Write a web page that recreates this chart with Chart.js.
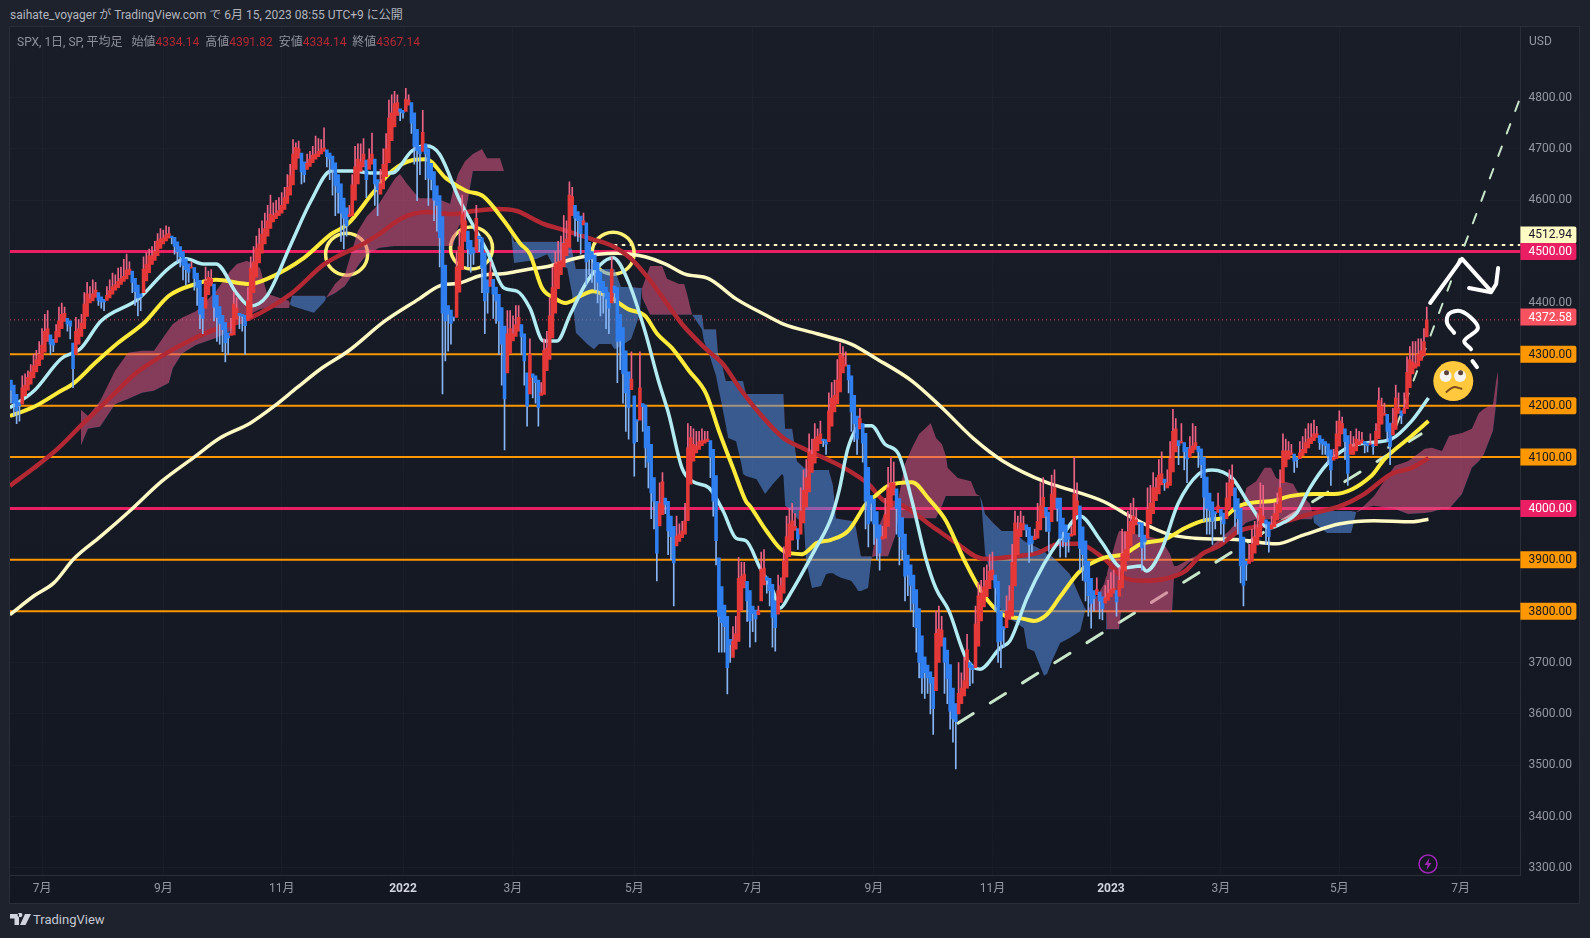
<!DOCTYPE html>
<html>
<head>
<meta charset="utf-8">
<title>SPX</title>
<style>
  html, body { margin: 0; padding: 0; background: #1e222d; width: 1590px; height: 938px; overflow: hidden; }
  body { font-family: Roboto, "Noto Sans CJK JP", sans-serif; color: #b2b5be; font-size: 12px; }
  #frame { position: absolute; left: 9px; top: 26px; width: 1571px; height: 878px; border: 1px solid #2a2e39; box-sizing: border-box; }
  #chart { position: absolute; left: 10px; top: 27px; }
  .txt { position: absolute; white-space: pre; line-height: 16px; }
  .val { color: #b22833; }
</style>
<script src="https://cdn.jsdelivr.net/npm/chart.js@4"></script>
</head>
<body>
<div id="frame"></div>
<canvas id="chart" width="1569" height="876"></canvas>
<div class="txt" style="left:10px;top:7px">saihate_voyager が TradingView.com で 6月 15, 2023 08:55 UTC+9 に公開</div>
<div class="txt" style="left:17px;top:34px;color:#8f929c">SPX, 1日, SP, 平均足   始値<span class="val">4334.14</span>  高値<span class="val">4391.82</span>  安値<span class="val">4334.14</span>  終値<span class="val">4367.14</span></div>
<div class="txt" style="left:1529px;top:33px;color:#9598a1">USD</div>
<svg style="position:absolute;left:1417px;top:853px" width="22" height="22" viewBox="0 0 22 22">
  <circle cx="11" cy="11" r="9" fill="none" stroke="#9c27b0" stroke-width="1.5"/>
  <path d="M12.5 5 L7.5 12 H10.5 L9.5 17 L14.5 10 H11.5 Z" fill="#9c27b0"/>
</svg>
<svg style="position:absolute;left:10px;top:913px" width="21" height="13" viewBox="0 0 21 13">
  <path d="M0 1 H9 V12 H4.5 V5.5 H0 Z M10 4 A2 2 0 1 0 10 0.1 A2 2 0 1 0 10 4 Z M15 1 H21 L15.5 12 H10 Z" fill="#d1d4dc"/>
</svg>
<div class="txt" style="left:33px;top:912px;font-size:13px;color:#c5c8d0">TradingView</div>
<script>
// heikin-ashi candles, 20 bars per row
const candleOpen = [
  4250,4240,4222,4206,4203,4219,4230,4242,4254,4266,4278,4290,4304,4325,4338,4329,4323,4334,4350,4364,
  4370,4365,4322,4300,4320,4335,4350,4374,4400,4404,4411,4420,4412,4407,4405,4410,4417,4425,4430,4436,
  4442,4447,4455,4462,4448,4435,4418,4420,4443,4459,4475,4483,4492,4506,4515,4521,4526,4530,4528,4519,
  4510,4500,4486,4476,4468,4469,4458,4444,4411,4390,4416,4433,4437,4415,4393,4376,4362,4342,4337,4338,
  4368,4380,4378,4376,4366,4371,4420,4450,4478,4497,4515,4530,4545,4558,4564,4570,4575,4582,4594,4610,
  4630,4660,4682,4692,4675,4660,4666,4673,4680,4685,4690,4695,4698,4692,4686,4673,4650,4632,4604,4585,
  4568,4570,4600,4632,4656,4665,4678,4660,4670,4680,4640,4612,4622,4646,4673,4716,4743,4765,4778,4775,
  4773,4785,4790,4770,4738,4705,4695,4710,4700,4672,4656,4628,4609,4568,4474,4395,4386,4373,4372,4421,
  4465,4520,4540,4522,4508,4503,4530,4527,4497,4445,4432,4446,4431,4417,4391,4355,4264,4302,4326,4335,
  4345,4358,4340,4264,4223,4262,4258,4250,4220,4222,4268,4290,4332,4380,4428,4455,4470,4492,4508,4570,
  4590,4578,4569,4552,4556,4518,4500,4493,4479,4460,4442,4431,4420,4400,4433,4430,4378,4352,4307,4266,
  4231,4219,4173,4172,4204,4201,4160,4125,4060,4014,3966,3988,4020,4014,3985,3965,3927,3936,3943,3950,
  3976,4047,4092,4108,4115,4122,4127,4130,4132,4115,4064,3904,3848,3812,3790,3745,3710,3726,3741,3802,
  3845,3858,3840,3810,3802,3793,3820,3851,3867,3864,3852,3820,3794,3817,3835,3866,3906,3938,3957,3961,
  3950,3972,4003,4032,4070,4088,4112,4126,4135,4134,4130,4160,4188,4204,4227,4264,4277,4279,4258,4220,
  4180,4155,4165,4146,4080,4025,4018,3994,3968,3940,3942,3965,4002,4026,4038,4019,3982,3950,3909,3890,
  3870,3842,3805,3752,3711,3695,3682,3671,3645,3700,3732,3748,3724,3696,3650,3620,3600,3620,3635,3650,
  3700,3695,3690,3732,3781,3808,3828,3844,3861,3870,3858,3799,3770,3768,3784,3790,3849,3910,3945,3958,
  3968,3963,3946,3939,3942,3958,3982,4002,3993,3974,4001,4020,4020,3981,3968,3952,3946,3948,3988,4005,
  3964,3937,3897,3864,3840,3832,3837,3828,3816,3821,3828,3835,3840,3829,3845,3878,3899,3927,3951,3968,
  3973,3972,3948,3942,3970,3990,4015,4028,4046,4057,4040,4045,4071,4110,4132,4127,4128,4119,4100,4108,
  4115,4121,4116,4100,4061,4030,4013,3994,3992,3998,3991,3980,4000,4025,4040,4019,4000,3944,3897,3893,
  3897,3913,3929,3945,3972,3978,3974,3960,3964,3977,3992,4050,4081,4096,4104,4106,4099,4097,4102,4108,
  4118,4126,4132,4138,4142,4135,4130,4126,4114,4094,4097,4121,4145,4155,4142,4105,4105,4112,4124,4127,
  4130,4127,4124,4125,4122,4136,4164,4181,4183,4166,4143,4154,4185,4190,4185,4194,4235,4262,4273,4277,
  4288,4297,4334
];
const candleClose = [
  4230,4205,4190,4200,4235,4240,4255,4266,4278,4290,4300,4318,4345,4350,4320,4318,4345,4365,4378,4380,
  4359,4355,4272,4345,4350,4361,4398,4418,4408,4418,4425,4405,4402,4402,4415,4424,4432,4436,4442,4448,
  4452,4464,4466,4440,4422,4410,4412,4466,4475,4492,4492,4500,4521,4525,4527,4532,4535,4527,4510,4500,
  4490,4473,4465,4460,4470,4448,4430,4378,4370,4443,4450,4447,4392,4372,4360,4348,4322,4332,4340,4398,
  4390,4376,4374,4356,4404,4468,4480,4507,4515,4534,4545,4560,4573,4570,4575,4580,4590,4605,4625,4648,
  4690,4703,4700,4655,4650,4672,4680,4688,4690,4695,4700,4702,4685,4680,4660,4628,4615,4575,4565,4550,
  4572,4630,4665,4680,4675,4690,4640,4680,4690,4632,4620,4632,4670,4700,4760,4770,4788,4790,4772,4770,
  4797,4795,4750,4705,4696,4690,4732,4690,4643,4640,4600,4590,4527,4380,4365,4378,4360,4372,4470,4510,
  4573,4560,4505,4495,4497,4565,4525,4468,4404,4420,4460,4417,4404,4365,4320,4213,4340,4350,4340,4358,
  4372,4335,4287,4199,4300,4255,4245,4196,4225,4308,4312,4375,4430,4476,4480,4482,4516,4525,4610,4607,
  4565,4560,4535,4560,4480,4485,4486,4465,4440,4424,4420,4408,4390,4466,4420,4325,4326,4262,4225,4196,
  4252,4127,4170,4235,4198,4118,4090,4030,4014,3913,4009,4052,4008,3956,3945,3894,3946,3950,3956,3976,
  4118,4138,4125,4122,4130,4132,4133,4135,4100,4014,3937,3790,3777,3770,3690,3735,3742,3756,3864,3868,
  3872,3820,3781,3795,3785,3800,3882,3884,3860,3840,3788,3768,3840,3850,3898,3945,3970,3976,3965,3940,
  3995,4035,4060,4110,4105,4135,4140,4145,4132,4125,4190,4215,4220,4250,4300,4295,4280,4250,4188,4165,
  4135,4175,4127,4014,3970,4010,3970,3942,3913,3945,3988,4040,4050,4050,4000,3945,3920,3868,3870,3850,
  3815,3768,3700,3670,3680,3670,3660,3610,3757,3765,3763,3700,3668,3605,3590,3585,3640,3650,3665,3725,
  3690,3686,3775,3830,3835,3848,3860,3878,3880,3845,3740,3742,3765,3800,3820,3895,3972,3960,3972,3970,
  3958,3930,3932,3945,3975,4005,4022,3985,3955,4028,4040,4000,3942,3955,3935,3940,3950,4028,4015,3922,
  3910,3858,3830,3815,3825,3842,3820,3805,3826,3835,3842,3845,3818,3860,3912,3920,3955,3975,3985,3978,
  3970,3923,3935,3998,4010,4040,4040,4065,4068,4050,4050,4097,4150,4155,4122,4130,4110,4096,4116,4122,
  4128,4110,4085,4022,4000,3996,3975,3990,4005,3985,3970,4020,4050,4055,3998,3980,3888,3850,3890,3900,
  3930,3945,3962,4000,3985,3970,3945,3968,3990,4008,4040,4112,4112,4112,4108,4092,4095,4108,4115,4128,
  4135,4138,4145,4145,4128,4125,4122,4102,4075,4100,4145,4170,4165,4130,4068,4125,4120,4135,4130,4133,
  4125,4122,4126,4120,4150,4210,4199,4185,4150,4120,4165,4215,4195,4180,4195,4265,4290,4285,4282,4300,
  4307,4325,4367
];
// tip of each candle's wick: above for red bars, below for blue ones
const candleWick = [
  4205,4180,4165,4170,4258,4262,4268,4280,4300,4308,4325,4350,4378,4385,4300,4305,4358,4392,4400,4392,
  4345,4330,4235,4372,4368,4378,4420,4440,4432,4445,4440,4395,4390,4385,4432,4445,4458,4455,4468,4470,
  4485,4495,4480,4420,4395,4375,4385,4490,4498,4505,4510,4520,4535,4545,4542,4550,4548,4515,4495,4480,
  4470,4445,4435,4440,4480,4425,4395,4350,4340,4470,4462,4465,4365,4325,4320,4305,4285,4300,4370,4420,
  4410,4350,4345,4300,4430,4490,4510,4530,4545,4560,4575,4590,4610,4595,4600,4605,4615,4625,4650,4670,
  4718,4712,4715,4632,4635,4690,4695,4705,4725,4720,4718,4741,4665,4640,4610,4570,4575,4520,4505,4530,
  4590,4650,4705,4710,4710,4720,4605,4700,4731,4590,4570,4660,4700,4730,4795,4805,4812,4805,4755,4760,
  4818,4805,4730,4670,4599,4650,4775,4640,4590,4620,4560,4540,4470,4223,4287,4306,4320,4365,4500,4540,
  4610,4580,4470,4460,4475,4590,4500,4420,4340,4380,4480,4370,4360,4300,4240,4114,4385,4385,4375,4395,
  4395,4300,4240,4160,4330,4215,4205,4160,4245,4330,4345,4410,4470,4500,4520,4530,4570,4560,4636,4625,
  4530,4520,4495,4575,4435,4455,4440,4425,4400,4375,4380,4350,4340,4490,4400,4245,4270,4205,4150,4135,
  4305,4063,4130,4305,4150,4080,4040,3980,3960,3859,4050,4070,3990,3910,3900,3810,3985,3970,3975,4010,
  4165,4160,4155,4150,4150,4155,4150,4150,4060,3985,3890,3720,3720,3720,3639,3700,3770,3790,3905,3895,
  3895,3780,3730,3760,3740,3810,3915,3920,3835,3810,3730,3722,3870,3865,3925,3985,4000,4010,3990,3920,
  4040,4075,4095,4145,4135,4165,4155,4170,4120,4105,4225,4245,4250,4290,4322,4315,4305,4225,4150,4130,
  4105,4195,4090,3960,3925,3975,3930,3900,3880,3965,4020,4080,4100,4090,3950,3890,3900,3820,3830,3800,
  3770,3720,3670,3640,3630,3640,3600,3560,3800,3810,3790,3640,3620,3570,3545,3493,3700,3680,3710,3755,
  3655,3660,3810,3855,3860,3885,3890,3910,3915,3800,3700,3690,3730,3830,3850,3930,3995,3985,3995,3985,
  3945,3895,3915,3960,4010,4050,4060,3955,3915,4065,4075,3975,3905,3925,3905,3915,3965,4100,4050,3880,
  3860,3820,3790,3767,3800,3865,3785,3783,3850,3860,3875,3880,3790,3885,3960,3955,3995,4010,4020,4000,
  3945,3880,3900,4040,4045,4070,4060,4095,4110,4035,4075,4130,4193,4175,4085,4165,4075,4050,4140,4165,
  4160,4080,4060,3975,3950,3950,3930,3960,4030,3950,3935,4050,4075,4085,3965,3950,3855,3810,3860,3930,
  3960,3975,3990,4050,4045,3930,3915,3985,4010,4030,4075,4145,4135,4130,4125,4070,4080,4130,4140,4155,
  4165,4165,4172,4160,4115,4105,4105,4085,4045,4115,4170,4190,4178,4095,4045,4150,4140,4155,4150,4148,
  4108,4110,4145,4105,4165,4235,4215,4205,4130,4085,4195,4240,4225,4165,4225,4295,4315,4325,4325,4330,
  4330,4350,4392
];

// moving averages
const ma200Idx = [-0.4,8.2,15.2,22.3,31.9,42.9,53.5,64.5,74.1,84.8,93.3,101.4,109.9,119.5,132.6,144.7,151.8,159.2,166.3,175.9,184,191.1,199.6,208.1,215.2,224.8,231.9,239,247.5,257.1,268.1,273.9,285.8,297.9,306.4,319.5,330.1,341.1,351.8,367.4,372,387.6,397.9,410.3,419.8,435.5,448.6,458.2,471.3,483.3,496.6,502.6];
const ma200Val = [3793,3830,3855,3902,3946,3999,4053,4098,4137,4166,4199,4235,4272,4306,4365,4408,4433,4439,4453,4458,4466,4472,4486,4495,4497,4490,4476,4456,4447,4408,4375,4359,4340,4320,4293,4248,4196,4137,4092,4050,4042,4013,3981,3950,3942,3939,3931,3948,3970,3976,3974,3979];
const ma50Idx = [-0.4,8.2,16.5,22.3,29.8,37.9,47.5,56,65.6,72.7,84.8,90.8,103.9,113.5,119.5,128,135.1,142.2,147.2,154.2,161.5,167.4,174.8,180.7,184,188.3,192.5,196.6,202.1,206.2,212.8,218.8,224.8,229.1,234.4,240.4,246.5,251,256,260.6,262,267.9,273.9,280.5,285.8,290.8,296.8,303.9,306.4,311,319.5,325.5,331.5,337.6,344.7,351.3,359.1,362.8,367.4,372,379.1,387.6,394.7,400.7,409.2,416.3,423.4,429.4,435.5,448.6,453.5,461.9,469.1,482.3,487,496.6,502.6];
const ma50Val = [4180,4198,4225,4244,4283,4322,4363,4414,4437,4445,4437,4447,4488,4534,4554,4612,4657,4678,4680,4643,4618,4608,4560,4515,4495,4429,4410,4400,4414,4423,4410,4388,4375,4340,4312,4268,4223,4151,4079,4014,4005,3956,3917,3911,3933,3939,3956,4014,4024,4044,4051,4018,3976,3904,3833,3794,3785,3781,3794,3828,3878,3904,3911,3931,3940,3962,3977,3981,4005,4016,4024,4028,4028,4063,4096,4141,4170];
const ma100Idx = [-0.4,8.2,16.5,24.8,36.9,44,53.5,64.5,72.7,84.8,99.3,111.2,125.5,130.5,138.6,147.2,156.7,163.8,172.3,179.4,184,188.8,196.1,205.7,214,219.9,225.9,231.9,237.9,246.5,252.5,258.5,265.6,273.9,281.2,295.4,303.9,309.9,314.7,327.9,335.1,344.7,356.7,363.8,372,378,387.6,394.7,401.9,409.2,416.3,422.3,428.4,435.5,448.6,460.6,471.5,479.8,489.4,496.6,502.6];
const ma100Val = [4044,4079,4116,4161,4225,4262,4297,4330,4349,4371,4418,4476,4517,4534,4565,4577,4573,4579,4583,4579,4567,4554,4542,4525,4509,4486,4449,4404,4359,4310,4281,4233,4184,4137,4116,4079,4048,4014,4009,3960,3933,3902,3907,3913,3931,3931,3902,3865,3859,3863,3878,3911,3927,3956,3970,3989,4005,4028,4067,4079,4098];
const ma20Idx = [-0.4,8.2,17.7,24.8,31.9,45.2,56,62.1,68.1,72.7,80.1,84.8,90.8,99.3,106.4,113.5,120.8,128,135.1,142.2,147.2,151.9,159.2,168.8,174.8,179.4,184,188.8,193.6,198.4,204.4,213.5,218.8,224.8,229.6,233.2,237.9,241.5,247.5,252.5,257.1,260.6,265.6,270.2,272.7,276.2,284.8,290.8,293.6,296.8,301.4,305.1,309.9,314.7,319.5,324.3,327.9,332.6,338.6,343.5,350.7,354.2,360.3,366.3,372,379.1,386.4,394.1,400.7,402.5,407.8,413.8,421.1,425.9,433,439,446.3,451,455.9,460.6,466.7,473.8,479.8,489.4,496.6,502.6];
const ma20Val = [4196,4229,4291,4312,4365,4408,4468,4486,4476,4476,4418,4394,4414,4515,4599,4657,4657,4653,4653,4696,4706,4690,4599,4501,4429,4423,4390,4326,4326,4379,4443,4488,4443,4345,4248,4184,4079,4053,4040,3995,3942,3937,3884,3839,3806,3833,3917,3981,4034,4118,4161,4161,4125,4106,4014,3904,3845,3800,3709,3687,3728,3742,3826,3892,3940,3985,3937,3884,3888,3878,3917,4009,4067,4075,4059,4009,3962,3972,3991,4040,4087,4118,4127,4135,4170,4215];

// ichimoku cloud spans
const cloudIdx = [24.8,27.3,31.6,36.9,41.5,46.5,50.7,56,57.4,60.6,65.6,72.7,77.7,80.1,83.7,88.3,90.8,98.6,98.9,99.6,107.4,111.3,111.7,114.9,118.4,120.9,123,126.2,130.5,136.2,137.9,140.4,144.7,150.7,155.7,156.7,158.5,161,163.8,167,168.8,173.4,174.8,176.2,177.3,178.4,184,186.5,190.1,191.8,197.2,198.9,200.3,204.3,206.7,208.5,212.8,214,216.3,219.9,223,223.6,223.8,226.6,230.9,232.6,236.9,238.7,239.7,241.5,245,245.7,247.5,250,250.7,251.8,253.5,254.3,257.1,258.9,259.6,260.6,264.4,267.4,270.2,273.4,273.9,274.5,277,278.7,281.2,281.9,284,287.2,289,290,291.5,292.5,294.3,297.9,299.3,300.4,301.4,303.9,305,305.3,306.4,308.5,311,313.5,314.7,317,319.5,322,326.1,328,330.1,331.5,332.1,335.7,340.4,342.2,343.6,344.3,345.4,348.2,351.3,355.5,359.1,360.3,362.8,366.3,367.4,369.1,372,375.5,379.1,380.8,381.6,387.6,388.3,388.6,392.2,392.9,393.6,407.8,411,411.7,412.4,413.5,418,423.4,428.4,431.9,435.5,438,441.5,444.5,446.8,448.6,451,454.6,456,460.6,461.3,461.7,462,466.7,471.3,475.2,477,477.6,479.8,483.3,490.7,495.3,501.3,503.8,507.4,509.9,514.5,518,520.5,522.3,525.5,526.6,527.3];
const cloudA = [4192,4180,4209,4268,4303,4307,4307,4349,4359,4371,4384,4423,4462,4476,4482,4468,4418,4404,4398,4394,4381,4404,4410,4437,4456,4501,4540,4569,4593,4643,4651,4632,4604,4604,4593,4618,4651,4676,4690,4700,4682,4682,4657,4607,4536,4478,4482,4486,4495,4478,4468,4419,4342,4320,4310,4320,4320,4310,4316,4330,4379,4429,4429,4472,4472,4447,4437,4437,4418,4377,4349,4326,4301,4258,4238,4209,4161,4137,4131,4088,4067,4063,4057,4028,4048,4067,4063,4005,3995,3981,3970,3898,3845,3849,3872,3874,3874,3870,3865,3859,3849,3839,3839,3845,3898,3905,3946,3976,4005,4014,4020,4087,4118,4145,4166,4137,4125,4102,4079,4059,4053,4028,4024,3995,3911,3859,3794,3781,3767,3728,3722,3674,3678,3703,3738,3748,3761,3800,3800,3853,3868,3874,3946,3956,3956,3940,3911,3898,3888,3888,3902,3915,3940,3956,3979,4040,4053,4079,4079,4059,4053,4048,4034,4009,3995,3985,3972,3952,3952,3952,3993,3995,4005,4024,4083,4092,4116,4118,4112,4141,4147,4155,4186,4194,4203,4248,4268];
const cloudB = [4122,4155,4159,4203,4213,4225,4229,4244,4273,4301,4318,4332,4345,4365,4375,4388,4390,4390,4398,4414,4414,4414,4410,4419,4433,4453,4472,4495,4507,4511,4511,4511,4511,4511,4511,4511,4546,4569,4657,4657,4657,4657,4657,4608,4540,4519,4519,4519,4519,4519,4519,4505,4466,4466,4466,4466,4466,4466,4431,4431,4429,4429,4410,4377,4377,4377,4377,4377,4377,4377,4377,4349,4349,4349,4301,4287,4248,4248,4248,4248,4248,4223,4223,4223,4223,4223,4223,4155,4155,4092,4079,4077,4075,4075,4075,4075,4044,3981,3979,3976,3972,3937,3907,3907,3907,3905,3907,3907,3907,3946,3981,3981,3981,3981,3981,3981,4005,4024,4024,4024,4024,4024,4024,4014,3989,3972,3956,3956,3937,3933,3927,3917,3911,3907,3892,3872,3826,3806,3800,3798,3798,3765,3765,3765,3798,3798,3798,3798,3865,3872,3896,3911,3931,3946,3960,3972,3979,3979,3979,3979,3979,3979,3979,3979,3979,3985,3995,3995,3995,3995,3993,3993,4001,4005,3999,3989,3991,3993,3999,3999,4028,4079,4092,4106,4151,4203,4248];

// drawn levels and trend lines
const orangeLevels = [3800,3900,4100,4200,4300];
const pinkLevels = [4000,4500];
const dottedLevel = 4512.94;
const lastClose = 4367.14;
const lastPrice = 4372.58;
const trend1Idx = [335.8,500];
const trend1Val = [3582,4145];
const trend2Idx = [488.3,535.1];
const trend2Val = [4118,4799];
const arrowIdx = [503.2,514.5,524.8];
const arrowVal = [4400,4486,4423];
const arrowHeadIdx = [517,524.8,526.6,527.3];
const arrowHeadVal = [4429,4421,4437,4468];
const questionIdx = [511.7,509.2,509.9,514,518.8,520,515.3,517.7];
const questionVal = [4342,4361,4379,4384,4365,4349,4326,4310];
const questionDotIdx = [518.2,519.8];
const questionDotVal = [4287,4275];
const circleIdx = [119,163.3,213.5];
const circleVal = [4495,4507,4497];
const faceIdx = [511.4];
const faceVal = [4248];
const eyeIdx = [508.7,513.8];
const eyeVal = [4258,4258];
const pupilIdx = [509,514];
const pupilVal = [4264,4264];
const mouthIdx = [509,511.5,514.3];
const mouthVal = [4227,4236,4233];

const priceTicks = [3300,3400,3500,3600,3700,3800,3900,4000,4100,4200,4300,4400,4500,4600,4700,4800];
const timeTickIdx = [11,54,96,139,178,221,263,306,348,390,429,471,514];
const timeTickLabels = ['7月','9月','11月','2022','3月','5月','7月','9月','11月','2023','3月','5月','7月'];

const xMin = -0.35, xMax = 535.2, yMin = 3286.3, yMax = 4937.3;

const pts = (xs, ys) => xs.map((x, i) => ({ x, y: ys[i] }));
const levelLine = v => [{ x: xMin, y: v }, { x: xMax, y: v }];
const isUp = i => candleClose[i] >= candleOpen[i];
const isYearTick = c => c.tick ? (timeTickLabels[timeTickIdx.indexOf(c.tick.value)] || '').length === 4 : false;

const bodyData = candleOpen.map((o, i) => ({ x: i, y: [o, candleClose[i]] }));
const wickData = candleWick.map((w, i) => ({ x: i, y: [candleClose[i], w] }));

function maLine(label, xs, ys, color, width, order) {
  return { type: 'line', label, data: pts(xs, ys), borderColor: color, borderWidth: width, pointRadius: 0,
    cubicInterpolationMode: 'monotone', fill: false, order };
}
function drawnLine(xs, ys, color, width, dash, order) {
  return { type: 'line', data: pts(xs, ys), borderColor: color, borderWidth: width, borderDash: dash, pointRadius: 0,
    tension: 0, fill: false, borderCapStyle: 'round', borderJoinStyle: 'round', order };
}
function dots(xs, ys, r, bg, border, bw, order) {
  return { type: 'bubble', data: xs.map((x, i) => ({ x, y: ys[i], r })), backgroundColor: bg, borderColor: border,
    borderWidth: bw, order };
}

const datasets = [
  // candles
  { type: 'bar', data: bodyData, grouped: false, barThickness: 2.9, order: 0, borderWidth: 0,
    backgroundColor: candleOpen.map((o, i) => isUp(i) ? '#e53838' : '#2f7ff0') },
  { type: 'bar', data: wickData, grouped: false, barThickness: 1, order: 1, borderWidth: 0,
    backgroundColor: candleOpen.map((o, i) => isUp(i) ? '#ee6284' : '#86b4f5') },
  // averages
  maLine('20', ma20Idx, ma20Val, '#b2ebf2', 3.5, 2),
  maLine('50', ma50Idx, ma50Val, '#ffeb3b', 4, 3),
  maLine('100', ma100Idx, ma100Val, '#b22833', 4.5, 4),
  maLine('200', ma200Idx, ma200Val, '#fff9c4', 3.5, 5),
  // cloud, filled between the two spans
  { type: 'line', data: pts(cloudIdx, cloudA), borderWidth: 0, pointRadius: 0, tension: 0, order: 6,
    fill: { target: '+1', above: 'rgba(224,88,133,0.55)', below: 'rgba(87,144,229,0.55)' } },
  { type: 'line', data: pts(cloudIdx, cloudB), borderWidth: 0, pointRadius: 0, tension: 0, order: 6, fill: false },
  // drawings under the cloud
  dots(circleIdx, circleVal, 21, 'rgba(0,0,0,0)', '#fff176', 3.5, 7),
  drawnLine(trend1Idx, trend1Val, '#c8e6c9', 3, [18, 20], 7),
  drawnLine(trend2Idx, trend2Val, '#c8e6c9', 2, [10, 14], 7),
  drawnLine([214, xMax], [dottedLevel, dottedLevel], '#fff9c4', 2, [2, 6], 8),
  { type: 'line', data: levelLine(lastClose), borderColor: 'rgba(247,82,95,0.8)', borderWidth: 1, borderDash: [1, 3], pointRadius: 0, order: 9 },
  ...orangeLevels.map(v => ({ type: 'line', data: levelLine(v), borderColor: '#ff9800', borderWidth: 2, pointRadius: 0, order: 9 })),
  ...pinkLevels.map(v => ({ type: 'line', data: levelLine(v), borderColor: '#e91e63', borderWidth: 3, pointRadius: 0, order: 9 })),
  // hand drawn bits on top
  drawnLine(arrowIdx, arrowVal, '#ffffff', 4, [], -1),
  drawnLine(arrowHeadIdx, arrowHeadVal, '#ffffff', 4, [], -1),
  { ...drawnLine(questionIdx, questionVal, '#ffffff', 4, [], -1), tension: 0.35 },
  drawnLine(questionDotIdx, questionDotVal, '#ffffff', 4, [], -1),
  dots(faceIdx, faceVal, 20, '#ffc83d', '#ffc83d', 0, -2),
  dots(eyeIdx, eyeVal, 6, '#f5f3ee', '#f5f3ee', 0, -3),
  dots(pupilIdx, pupilVal, 2.5, '#5d4037', '#5d4037', 0, -4),
  { ...drawnLine(mouthIdx, mouthVal, '#7a4a1e', 2, [], -3), tension: 0.4 }
];

// plot background, TradingView fades it slightly from top to bottom
const backdrop = {
  id: 'backdrop',
  beforeDraw(chart) {
    const { ctx, width, height } = chart;
    const g = ctx.createLinearGradient(0, 0, 0, height);
    g.addColorStop(0, '#191d28');
    g.addColorStop(1, '#131722');
    ctx.save();
    ctx.fillStyle = g;
    ctx.fillRect(0, 0, width, height);
    ctx.restore();
  }
};

// coloured price boxes on the right axis, the 4512 one sits just above the 4500 one
const priceBoxes = {
  id: 'priceBoxes',
  afterDraw(chart) {
    const { ctx, chartArea: { right }, scales: { y } } = chart;
    const boxes = [
      [dottedLevel, '#fff9c4', '#131722', -10],
      ...orangeLevels.map(v => [v, '#ff9800', '#131722', 0]),
      ...pinkLevels.map(v => [v, '#e91e63', '#ffffff', 0]),
      [lastPrice, '#f7525f', '#ffffff', 0]
    ];
    ctx.save();
    ctx.font = '12px Roboto';
    ctx.textBaseline = 'middle';
    boxes.forEach(([v, bg, fg, nudge]) => {
      const py = y.getPixelForValue(v) + nudge;
      ctx.fillStyle = bg;
      ctx.beginPath();
      ctx.roundRect(right, py - 8.5, 56, 17, [0, 2, 2, 0]);
      ctx.fill();
      ctx.fillStyle = fg;
      ctx.fillText(v.toFixed(2), right + 8, py + 0.5);
    });
    ctx.restore();
  }
};

const config = {
  type: 'bar',
  data: { datasets },
  options: {
    responsive: false,
    animation: false,
    events: [],
    layout: { padding: 0, autoPadding: false },
    plugins: { legend: { display: false }, tooltip: { enabled: false }, filler: { propagate: false } },
    scales: {
      x: {
        type: 'linear',
        min: xMin,
        max: xMax,
        offset: false,
        grid: { color: 'rgba(255,255,255,0.025)', offset: false, drawTicks: false },
        border: { color: '#2a2e39' },
        afterBuildTicks: s => { s.ticks = timeTickIdx.map(value => ({ value })); },
        afterFit: s => { s.height = 28; s.paddingLeft = 0; s.paddingRight = 0; },
        ticks: {
          autoSkip: false,
          maxRotation: 0,
          padding: 7,
          color: c => isYearTick(c) ? '#d1d4dc' : '#9598a1',
          font: c => ({ family: 'Roboto, "Noto Sans CJK JP"', size: 12, weight: isYearTick(c) ? 'bold' : 'normal' }),
          callback: v => timeTickLabels[timeTickIdx.indexOf(v)]
        }
      },
      y: {
        type: 'linear',
        position: 'right',
        min: yMin,
        max: yMax,
        grid: { color: 'rgba(255,255,255,0.025)', drawTicks: false },
        border: { color: '#2a2e39' },
        afterBuildTicks: s => { s.ticks = priceTicks.map(value => ({ value })); },
        afterFit: s => { s.width = 1569 - 1510.4; s.paddingTop = 0; s.paddingBottom = 0; },
        ticks: {
          autoSkip: false,
          padding: 8,
          color: '#9598a1',
          font: { family: 'Roboto', size: 12 },
          callback: v => v.toFixed(2)
        }
      }
    }
  },
  plugins: [backdrop, priceBoxes]
};

new Chart(document.getElementById('chart'), config);
</script>
</body>
</html>
